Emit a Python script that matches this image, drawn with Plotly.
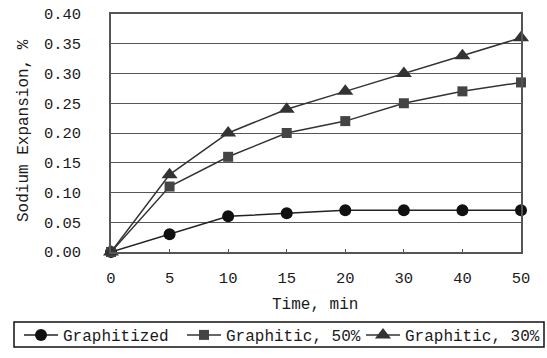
import plotly.graph_objects as go

time_labels = ["0", "5", "10", "15", "20", "30", "40", "50"]
graphitized = [0.0, 0.03, 0.06, 0.065, 0.07, 0.07, 0.07, 0.07]
graphitic_50 = [0.0, 0.11, 0.16, 0.20, 0.22, 0.25, 0.27, 0.285]
graphitic_30 = [0.0, 0.13, 0.20, 0.24, 0.27, 0.30, 0.33, 0.36]
y_ticks = [0.0, 0.05, 0.10, 0.15, 0.20, 0.25, 0.30, 0.35, 0.40]
y_tick_text = ["0.00", "0.05", "0.10", "0.15", "0.20", "0.25", "0.30", "0.35", "0.40"]

FONT = "Liberation Mono"
TXT = "#1a1a1a"

W, H = 547, 358
L, R, T, B = 111, 26, 14, 106
PW, PH = W - L - R, H - T - B


def px_x(px):  # page pixel -> paper x
    return (px - L) / PW


def px_y(py):  # page pixel -> paper y
    return (H - B - py) / PH


fig = go.Figure()
fig.add_trace(go.Scatter(
    x=time_labels, y=graphitized, name="Graphitized", mode="lines+markers",
    line=dict(color="#222", width=1.5), legend="legend",
    marker=dict(symbol="circle", size=12, color="#111"), cliponaxis=False))
fig.add_trace(go.Scatter(
    x=time_labels, y=graphitic_50, name="Graphitic, 50%", mode="lines+markers",
    line=dict(color="#333", width=1.5), legend="legend2",
    marker=dict(symbol="square", size=10, color="#444"), cliponaxis=False))
fig.add_trace(go.Scatter(
    x=time_labels, y=graphitic_30, name="Graphitic, 30%", mode="lines+markers",
    line=dict(color="#333", width=1.5), legend="legend3",
    marker=dict(symbol="triangle-up", size=14, color="#333"), cliponaxis=False))

leg_common = dict(orientation="h", xanchor="left", yanchor="middle", xref="paper", yref="paper",
                  bgcolor="rgba(0,0,0,0)", borderwidth=0, itemwidth=34,
                  font=dict(family=FONT, size=16, color=TXT))
leg_y = px_y(335)

fig.update_layout(
    width=W, height=H,
    margin=dict(l=L, r=R, t=T, b=B, autoexpand=False),
    paper_bgcolor="white", plot_bgcolor="white",
    font=dict(family=FONT, size=16, color=TXT),
    showlegend=True,
    legend=dict(x=px_x(19), y=leg_y, **leg_common),
    legend2=dict(x=px_x(182), y=leg_y, **leg_common),
    legend3=dict(x=px_x(361), y=leg_y, **leg_common),
    xaxis=dict(type="category", categoryorder="array", categoryarray=time_labels,
               range=[0, 7], showgrid=False, showline=True, linecolor="#555", linewidth=1.5,
               mirror=True, ticks="inside", ticklen=3, tickcolor="#555", automargin=False,
               ticklabelstandoff=11, ticklabeloverflow="allow",
               tickfont=dict(family=FONT, size=15.5, color=TXT)),
    yaxis=dict(range=[0, 0.4], tickvals=y_ticks, ticktext=y_tick_text,
               showgrid=True, gridcolor="#555", gridwidth=1.3, automargin=False,
               showline=True, linecolor="#555", linewidth=1.5, mirror=True,
               ticks="", ticklabelstandoff=25, zeroline=False, ticklabeloverflow="allow",
               tickfont=dict(family=FONT, size=15.5, color=TXT)),
    shapes=[dict(type="rect", xref="paper", yref="paper",
                 x0=px_x(14), x1=px_x(544), y0=px_y(347), y1=px_y(322),
                 line=dict(color="#111", width=1.5), fillcolor="rgba(0,0,0,0)", layer="above")],
    annotations=[
        dict(text="Time, min", xref="paper", yref="paper", x=px_x(315), y=px_y(305),
             xanchor="center", yanchor="middle", showarrow=False,
             font=dict(family=FONT, size=16, color=TXT)),
        dict(text="Sodium Expansion, %", xref="paper", yref="paper", x=px_x(24),
             y=px_y(131), textangle=-90, xanchor="center", yanchor="middle",
             showarrow=False, font=dict(family=FONT, size=16, color=TXT)),
    ],
)

fig.write_html("out.html", config={"displayModeBar": False},
               post_script="document.body.style.margin='0px';")
